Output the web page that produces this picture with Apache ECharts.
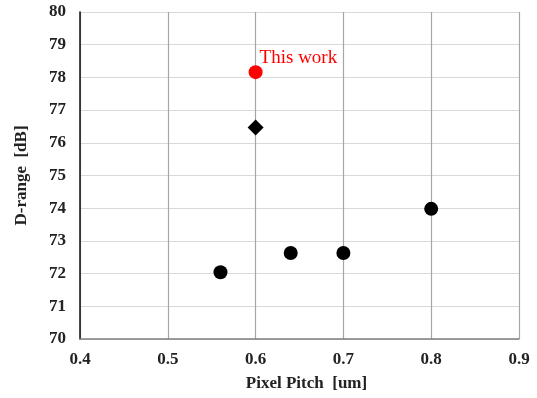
<!DOCTYPE html>
<html><head><meta charset="utf-8">
<script src="https://cdn.jsdelivr.net/npm/echarts@6/dist/echarts.min.js"></script>
<style>html,body{margin:0;padding:0;background:#fff}#c{width:537px;height:398px}</style>
</head><body><div id="c"></div>
<script>
const xTicks = [0.4, 0.5, 0.6, 0.7, 0.8, 0.9];
const yTicks = [70, 71, 72, 73, 74, 75, 76, 77, 78, 79, 80];
const circleData = [[0.56, 72.04], [0.64, 72.63], [0.70, 72.63], [0.80, 73.98]];
const diamondData = [[0.60, 76.47]];
const thisWorkData = [[0.60, 78.16]];
const thisWorkLabel = 'This work';
const xTitle = 'Pixel Pitch  [um]';
const yTitle = 'D-range  [dB]';

const font = '"Liberation Serif","Times New Roman",serif';
const chart = echarts.init(document.getElementById('c'));
chart.setOption({
  animation: false,
  grid: { left: 80, right: 18, top: 12, bottom: 59 },
  xAxis: {
    type: 'value', min: 0.4, max: 0.9, interval: 0.1,
    name: xTitle, nameLocation: 'middle', nameGap: 36,
    nameTextStyle: { fontFamily: font, fontWeight: 'bold', fontSize: 17, color: '#222', padding: [0, 0, 0, 14] },
    axisLine: { show: true, lineStyle: { color: '#7f7f7f', width: 1.5 } },
    axisTick: { show: false },
    axisLabel: { fontFamily: font, fontWeight: 'bold', fontSize: 17, color: '#222', margin: 12,
      formatter: v => v.toFixed(1) },
    splitLine: { show: true, lineStyle: { color: '#a6a6a6', width: 1.2 } }
  },
  yAxis: {
    type: 'value', min: 70, max: 80, interval: 1,
    name: yTitle, nameLocation: 'middle', nameGap: 50, nameRotate: 90,
    nameTextStyle: { fontFamily: font, fontWeight: 'bold', fontSize: 17, color: '#222' },
    axisLine: { show: true, lineStyle: { color: '#111', width: 1.5 } },
    axisTick: { show: false },
    axisLabel: { fontFamily: font, fontWeight: 'bold', fontSize: 17, color: '#222', margin: 14 },
    splitLine: { show: true, lineStyle: { color: '#d9d9d9', width: 1.2 } }
  },
  series: [
    { type: 'scatter', data: circleData, symbol: 'circle', symbolSize: 14,
      itemStyle: { color: '#000', opacity: 1 } },
    { type: 'scatter', data: diamondData, symbol: 'diamond', symbolSize: 16,
      itemStyle: { color: '#000', opacity: 1 } },
    { type: 'scatter', data: thisWorkData, symbol: 'circle', symbolSize: 14,
      itemStyle: { color: '#ff0000', opacity: 1 },
      label: { show: true, formatter: thisWorkLabel, position: 'right', distance: 0,
        offset: [-3, -14], color: '#ff0000', fontFamily: font, fontSize: 19 } }
  ]
});
</script></body></html>
